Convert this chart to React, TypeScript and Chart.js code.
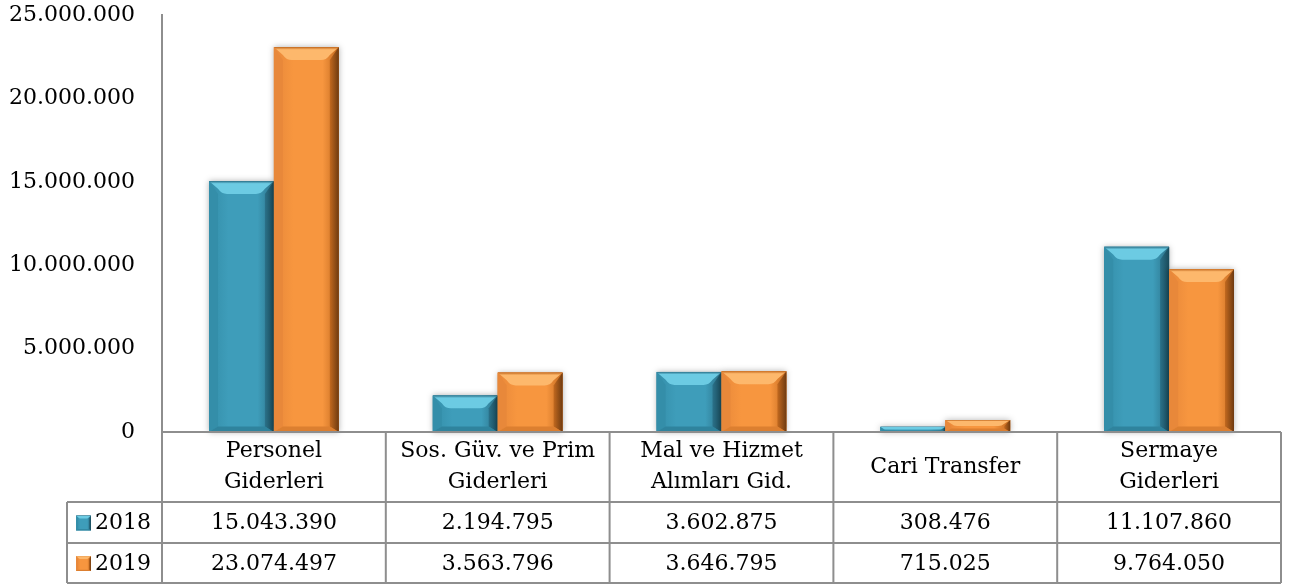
import React, { useEffect, useRef } from "react";
import { Chart, registerables } from "chart.js";

Chart.register(...registerables);

const categories: string[][] = [
  ["Personel", "Giderleri"],
  ["Sos. Güv. ve Prim", "Giderleri"],
  ["Mal ve Hizmet", "Alımları Gid."],
  ["Cari Transfer"],
  ["Sermaye", "Giderleri"],
];
const seriesNames = ["2018", "2019"];
const values2018 = [15043390, 2194795, 3602875, 308476, 11107860];
const values2019 = [23074497, 3563796, 3646795, 715025, 9764050];
const yTicks = [0, 5000000, 10000000, 15000000, 20000000, 25000000];

const FONT = "'DejaVu Serif', serif";
const FS = 22;
const LINE = "#8e8e8e";

type Pal = { base: string; top: string; left: string; right: string; dark: string; bottom: string };
const palettes: Pal[] = [
  { base: "#3e9dba", top: "#6ccbe3", left: "#348ea9", right: "#2b7189", dark: "#194a5a", bottom: "#2f839d" },
  { base: "#f7963f", top: "#fdb86c", left: "#e8883a", right: "#c2691f", dark: "#6e3a10", bottom: "#dc7f30" },
];

const fmt = (n: number) => String(n).replace(/\B(?=(\d{3})+(?!\d))/g, ".");

function poly(ctx: CanvasRenderingContext2D, pts: number[][], fill: any) {
  ctx.beginPath();
  ctx.moveTo(pts[0][0], pts[0][1]);
  for (let i = 1; i < pts.length; i++) ctx.lineTo(pts[i][0], pts[i][1]);
  ctx.closePath();
  ctx.fillStyle = fill;
  ctx.fill();
}

function drawBevel(ctx: CanvasRenderingContext2D, x0: number, y0: number, x1: number, y1: number, p: Pal, shadow = true) {
  const w = x1 - x0;
  const h = y1 - y0;
  if (h <= 0 || w <= 0) return;
  const b = Math.min(13, w * 0.2, h / 2);
  const s = Math.min(9, w * 0.14, h / 2);
  ctx.save();
  if (shadow) {
    ctx.shadowColor = "rgba(0,0,0,0.3)";
    ctx.shadowBlur = 6;
  }
  const g = ctx.createLinearGradient(x0, 0, x1, 0);
  g.addColorStop(0, p.left);
  g.addColorStop(0.3, p.base);
  g.addColorStop(0.75, p.base);
  g.addColorStop(1, p.right);
  ctx.fillStyle = g;
  ctx.fillRect(x0, y0, w, h);
  ctx.restore();
  ctx.save();
  // left strip
  poly(ctx, [[x0, y0], [x0 + s, y0 + b], [x0 + s, y1 - s * 0.6], [x0, y1]], p.left);
  // right strip
  const gr = ctx.createLinearGradient(x1 - s, 0, x1, 0);
  gr.addColorStop(0, p.right);
  gr.addColorStop(1, p.dark);
  poly(ctx, [[x1, y0], [x1 - s, y0 + b], [x1 - s, y1 - s * 0.6], [x1, y1]], gr);
  // bottom
  poly(ctx, [[x0, y1], [x0 + s, y1 - s * 0.6], [x1 - s, y1 - s * 0.6], [x1, y1]], p.bottom);
  // top highlight
  const gt = ctx.createLinearGradient(0, y0, 0, y0 + b);
  gt.addColorStop(0, p.right);
  gt.addColorStop(0.2, p.top);
  gt.addColorStop(1, p.top);
  ctx.beginPath();
  ctx.moveTo(x0, y0);
  ctx.lineTo(x1, y0);
  ctx.lineTo(x1 - s, y0 + b * 0.6);
  ctx.quadraticCurveTo(x1 - s * 1.4, y0 + b, x1 - s * 2, y0 + b);
  ctx.lineTo(x0 + s * 2, y0 + b);
  ctx.quadraticCurveTo(x0 + s * 1.4, y0 + b, x0 + s, y0 + b * 0.6);
  ctx.closePath();
  ctx.fillStyle = gt;
  ctx.fill();
  ctx.restore();
}

const bevelPlugin = {
  id: "bevelBars",
  afterDatasetsDraw(chart: any) {
    const ctx = chart.ctx as CanvasRenderingContext2D;
    chart.data.datasets.forEach((_: any, di: number) => {
      const meta = chart.getDatasetMeta(di);
      meta.data.forEach((el: any) => {
        const { x, y, base, width } = el.getProps(["x", "y", "base", "width"], true);
        drawBevel(ctx, x - width / 2, Math.min(y, base), x + width / 2, Math.max(y, base), palettes[di]);
      });
    });
  },
};

const tablePlugin = {
  id: "dataTable",
  afterDraw(chart: any) {
    const ctx = chart.ctx as CanvasRenderingContext2D;
    const area = chart.chartArea;
    const n = categories.length;
    const bw = (area.right - area.left) / n;
    const top = area.bottom;
    const headerBottom = top + 70;
    const row1 = headerBottom + 41;
    const row2 = row1 + 40;
    const legendLeft = 67;
    ctx.save();
    ctx.strokeStyle = LINE;
    ctx.lineWidth = 2;
    ctx.beginPath();
    ctx.moveTo(area.left, top);
    ctx.lineTo(area.right, top);
    ctx.moveTo(legendLeft, headerBottom);
    ctx.lineTo(area.right, headerBottom);
    ctx.moveTo(legendLeft, row1);
    ctx.lineTo(area.right, row1);
    ctx.moveTo(legendLeft, row2);
    ctx.lineTo(area.right, row2);
    for (let i = 0; i <= n; i++) {
      const x = area.left + i * bw;
      ctx.moveTo(x, top);
      ctx.lineTo(x, row2);
    }
    ctx.moveTo(legendLeft, headerBottom);
    ctx.lineTo(legendLeft, row2);
    ctx.stroke();

    ctx.fillStyle = "#000";
    ctx.font = `${FS}px ${FONT}`;
    ctx.textAlign = "center";
    ctx.textBaseline = "middle";
    const hc = (top + headerBottom) / 2;
    categories.forEach((lines, i) => {
      const cx = chart.scales.x.getPixelForValue(i);
      const lh = 31;
      lines.forEach((t, li) => {
        ctx.fillText(t, cx, hc + (li - (lines.length - 1) / 2) * lh);
      });
      ctx.fillText(fmt(values2018[i]), cx, (headerBottom + row1) / 2 + 1);
      ctx.fillText(fmt(values2019[i]), cx, (row1 + row2) / 2 + 1);
    });
    const rows = [(headerBottom + row1) / 2, (row1 + row2) / 2];
    rows.forEach((cy, i) => {
      drawBevel(ctx, 76, cy - 7, 91, cy + 8, palettes[i], false);
      ctx.fillStyle = "#000";
      ctx.textAlign = "left";
      ctx.fillText(seriesNames[i], 95, cy + 1);
    });
    ctx.restore();
  },
};

export default function App() {
  const ref = useRef<HTMLCanvasElement | null>(null);
  useEffect(() => {
    if (!ref.current) return;
    const chart = new Chart(ref.current, {
      type: "bar",
      data: {
        labels: categories.map((c) => c.join(" ")),
        datasets: [
          { label: seriesNames[0], data: values2018, backgroundColor: palettes[0].base, categoryPercentage: 0.58, barPercentage: 1 },
          { label: seriesNames[1], data: values2019, backgroundColor: palettes[1].base, categoryPercentage: 0.58, barPercentage: 1 },
        ],
      },
      options: {
        animation: false,
        responsive: true,
        maintainAspectRatio: false,
        layout: { padding: { left: 0, right: 15, top: 15, bottom: 155 } },
        plugins: { legend: { display: false }, tooltip: { enabled: false } },
        scales: {
          x: { display: false, offset: true },
          y: {
            min: 0,
            max: 25000000,
            afterBuildTicks: (s: any) => {
              s.ticks = yTicks.map((v) => ({ value: v }));
            },
            afterFit: (s: any) => {
              s.width = 162;
              s.paddingTop = 0;
              s.paddingBottom = 0;
            },
            grid: { display: false, drawTicks: false },
            border: { display: true, color: LINE, width: 2 },
            ticks: {
              padding: 27,
              color: "#000",
              font: { family: FONT, size: FS },
              callback: (v: any) => fmt(Number(v)),
            },
          },
        },
      },
      plugins: [bevelPlugin, tablePlugin],
    });
    return () => chart.destroy();
  }, []);
  return (
    <div style={{ position: "fixed", left: 0, top: 0, width: 1296, height: 587, background: "#fff" }}>
      <canvas ref={ref} />
    </div>
  );
}
